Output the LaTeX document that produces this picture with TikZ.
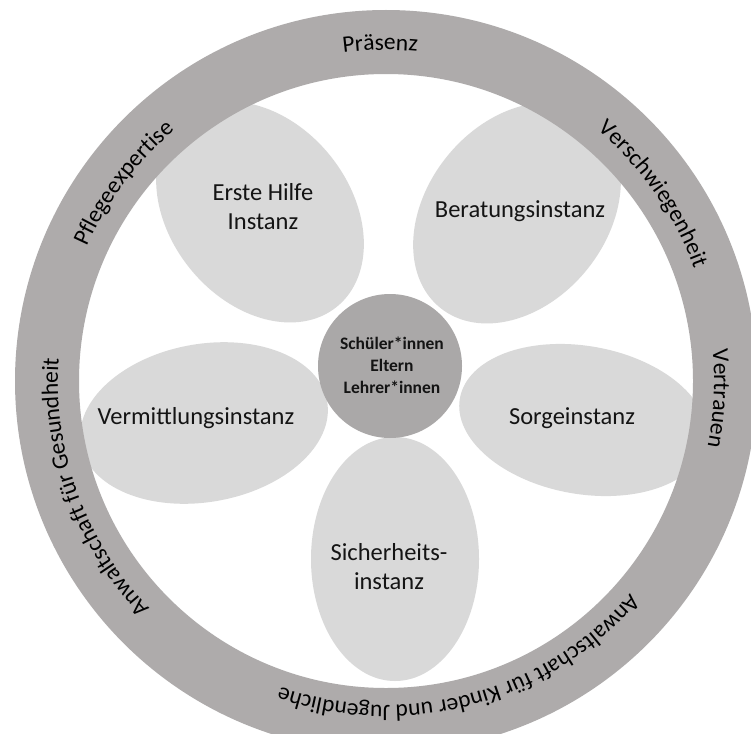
\documentclass[tikz,border=0pt]{standalone}
\usepackage{fontspec}
\setmainfont{Carlito}
\usetikzlibrary{decorations.text,calc}
\definecolor{ringgray}{RGB}{174,171,171}
\definecolor{petalgray}{RGB}{217,217,217}
\definecolor{hubgray}{RGB}{170,168,168}
\definecolor{inkgray}{RGB}{20,20,20}
\newcommand\myringfont{\fontsize{23.5}{23.5}\selectfont}
\begin{document}
\begin{tikzpicture}[x=1pt,y=1pt,
  petal/.style={fill=petalgray},
  petallabel/.style={font=\fontsize{24.5}{29}\selectfont, text=inkgray, align=center},
  hub/.style={circle, fill=hubgray, minimum size=144pt, inner sep=0pt},
  hublabel/.style={font=\bfseries\fontsize{17.5}{22}\selectfont, align=center, text=inkgray},
  ringtext/.style={decorate, decoration={text along path, text align=center, text={|\myringfont|#1}}}
]
\useasboundingbox (0,0) rectangle (751,-733);
\clip (0,0) rectangle (751,-733);
\fill[white] (0,0) rectangle (751,-733);
\coordinate (O) at (386,-381);

% petals
\fill[petal, rotate around={129:(260,-212)}] (260,-212) ellipse[x radius=122, y radius=90];
\fill[petal, rotate around={51:(517,-213)}] (517,-213) ellipse[x radius=122, y radius=90];
\fill[petal, rotate around={10:(204,-423)}] (204,-423) ellipse[x radius=125, y radius=79];
\fill[petal, rotate around={-10:(583,-420)}] (583,-420) ellipse[x radius=125, y radius=74];
\fill[petal] (395,-559) ellipse[x radius=84, y radius=122];

% ring
\fill[ringgray, even odd rule] (O) circle[radius=371] (O) circle[radius=307];

% hub
\node[hub] (hub) at (390,-366) {};
\node[hublabel] (hubtext) at (392,-365) {Schüler*innen\\Eltern\\Lehrer*innen};

% petal labels
\node[petallabel] (erste) at (263,-207) {Erste Hilfe\\Instanz};
\node[petallabel] (beratung) at (520,-211) {Beratungsinstanz};
\node[petallabel] (vermittlung) at (196,-418) {Vermittlungsinstanz};
\node[petallabel] (sorge) at (572,-418) {Sorgeinstanz};
\node[petallabel] (sicherheit) at (389,-567) {Sicherheits-\\instanz};

% ring labels
\path[ringtext={Präsenz}] ($(O)+(151:331)$) arc[start angle=151, end angle=31, radius=331];
\path[ringtext={Verschwiegenheit}] ($(O)+(95:328)$) arc[start angle=95, end angle=-25, radius=328];
\path[ringtext={Vertrauen}] ($(O)+(57:328)$) arc[start angle=57, end angle=-63, radius=328];
\path[ringtext={Anwaltschaft für Kinder und Jugendliche}] ($(O)+(-15:324)$) arc[start angle=-15, end angle=-135, radius=324];
\path[ringtext={Anwaltschaft für Gesundheit}] ($(O)+(260:328)$) arc[start angle=260, end angle=140, radius=328];
\path[ringtext={Pflegeexpertise}] ($(O)+(203:328)$) arc[start angle=203, end angle=83, radius=328];
\end{tikzpicture}
\end{document}
